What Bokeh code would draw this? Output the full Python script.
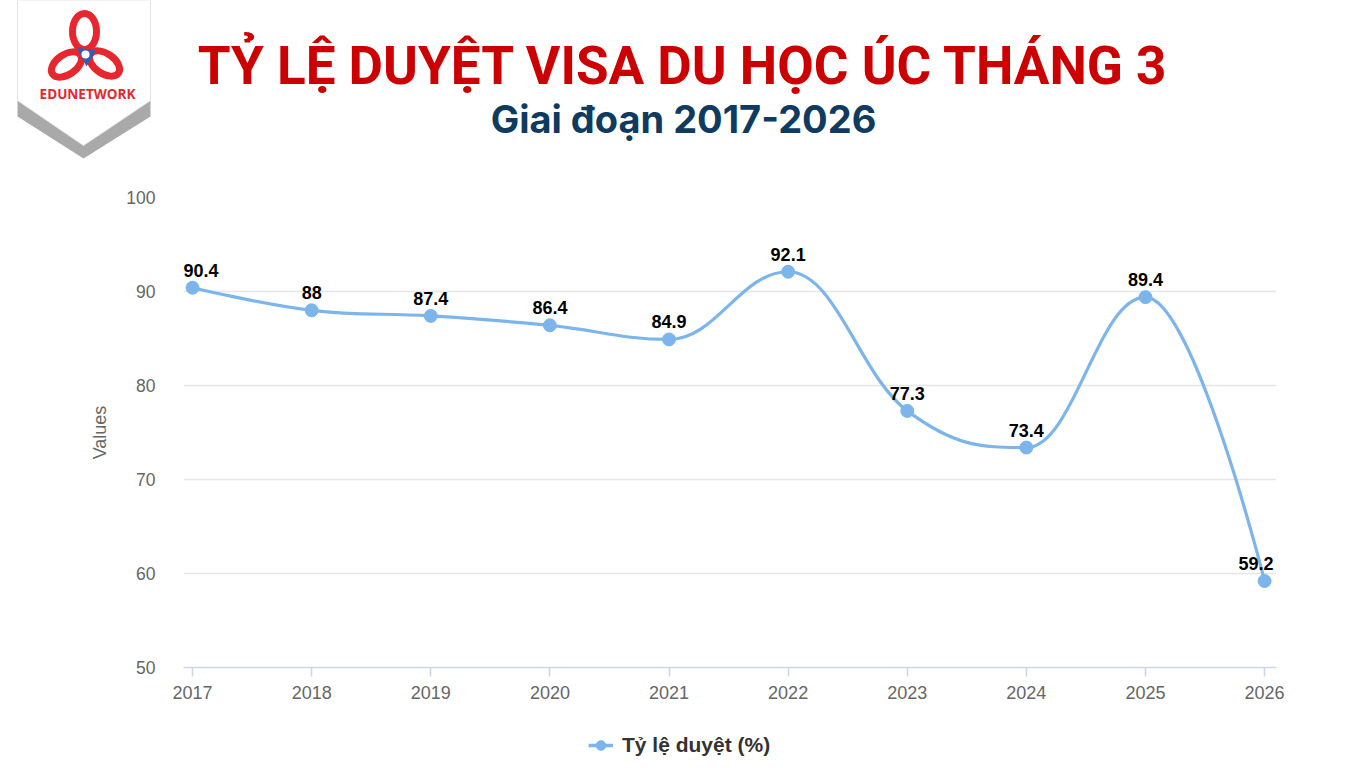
import numpy as np
from bokeh.plotting import figure
from bokeh.layouts import column
from bokeh.models import (ColumnDataSource, Range1d, FixedTicker, Legend, LegendItem)
from bokeh.core.properties import value
from bokeh.embed import file_html
from bokeh.resources import INLINE

# ---------------- data ----------------
years = [2017, 2018, 2019, 2020, 2021, 2022, 2023, 2024, 2025, 2026]
rates = [90.4, 88.0, 87.4, 86.4, 84.9, 92.1, 77.3, 73.4, 89.4, 59.2]
labels = ["90.4", "88", "87.4", "86.4", "84.9", "92.1", "77.3", "73.4", "89.4", "59.2"]
y_ticks = [50, 60, 70, 80, 90, 100]
title_text = "TỶ LỆ DUYỆT VISA DU HỌC ÚC THÁNG 3"
subtitle_text = "Giai đoạn 2017-2026"
series_name = "Tỷ lệ duyệt (%)"
y_axis_title = "Values"

LINE_COLOR = "#7cb5ec"


def spline_segments(xs, ys, smoothing=1.5):
    """Highcharts-style spline control points (affine invariant)."""
    denom = smoothing + 1
    n = len(xs)
    left = [(xs[i], ys[i]) for i in range(n)]
    right = [(xs[i], ys[i]) for i in range(n)]
    for i in range(1, n - 1):
        px, py = xs[i], ys[i]
        lx, ly = xs[i - 1], ys[i - 1]
        nx, ny = xs[i + 1], ys[i + 1]
        lcx = (smoothing * px + lx) / denom
        lcy = (smoothing * py + ly) / denom
        rcx = (smoothing * px + nx) / denom
        rcy = (smoothing * py + ny) / denom
        corr = 0.0
        if rcx != lcx:
            corr = (rcy - lcy) * (rcx - px) / (rcx - lcx) + py - rcy
        lcy += corr
        rcy += corr
        if lcy > ly and lcy > py:
            lcy = max(ly, py); rcy = 2 * py - lcy
        elif lcy < ly and lcy < py:
            lcy = min(ly, py); rcy = 2 * py - lcy
        if rcy > ny and rcy > py:
            rcy = max(ny, py); lcy = 2 * py - rcy
        elif rcy < ny and rcy < py:
            rcy = min(ny, py); lcy = 2 * py - rcy
        left[i] = (lcx, lcy)
        right[i] = (rcx, rcy)
    seg = dict(x0=[], y0=[], x1=[], y1=[], cx0=[], cy0=[], cx1=[], cy1=[])
    for i in range(1, n):
        seg["x0"].append(xs[i - 1]); seg["y0"].append(ys[i - 1])
        seg["x1"].append(xs[i]); seg["y1"].append(ys[i])
        seg["cx0"].append(right[i - 1][0]); seg["cy0"].append(right[i - 1][1])
        seg["cx1"].append(left[i][0]); seg["cy1"].append(left[i][1])
    return seg


W = 1350
HEAD_H = 175
CH_H = 540     # chart figure: page y 175..715
FOOT_H = 50    # footer: page y 715..765

# ---------------- header (logo + titles) ----------------
head = figure(width=W, height=HEAD_H, x_range=Range1d(0, W), y_range=Range1d(HEAD_H, 0),
              output_backend="svg", toolbar_location=None, min_border=0)
head.frame_align = False
head.axis.visible = False
head.grid.visible = False
head.outline_line_color = None

# logo shield with shadow
head.patch([17, 17, 83, 150, 150], [100, 116, 158, 116, 100], fill_color="#9a9a9a", line_color=None, fill_alpha=0.85)
head.patch([17, 17, 83, 150, 150], [0, 100, 145, 100, 0], fill_color="white", line_color="#e6e6e6", line_width=1)
# trefoil loops
head.ellipse(x=[84], y=[31], width=[24], height=[36], fill_color=None, line_color="#e8262d", line_width=7)
head.ellipse(x=[66], y=[64], width=[34], height=[20], angle=[0.6], fill_color=None, line_color="#e8262d", line_width=7)
head.ellipse(x=[104], y=[63], width=[34], height=[20], angle=[-0.6], fill_color=None, line_color="#e8262d", line_width=7)
head.patch([76, 96, 86], [47, 50, 66], fill_color="#3b5ba9", line_color=None)
head.scatter(x=[85], y=[54], size=8, fill_color="white", line_color=None)
head.text(x=[87], y=[93], text=["EDUNETWORK"], text_align="center", text_baseline="middle",
          text_font=value("Open Sans"), text_font_style="bold", text_font_size="13.5px", text_color="#e8262d")

head.text(x=[683], y=[65], text=[title_text], text_align="center", text_baseline="alphabetic",
          text_font=value("Roboto"), text_font_style="bold", text_font_size="53px", text_color="#cc0000")
head.text(x=[683], y=[118], text=[subtitle_text], text_align="center", text_baseline="alphabetic",
          text_font=value("Inter"), text_font_style="bold", text_font_size="38px", text_color="#0f3b60")

# ---------------- chart ----------------
FRAME_TOP, FRAME_BOTTOM, FRAME_LEFT, FRAME_RIGHT = 197, 667, 183, 1276
p = figure(width=W, height=CH_H, output_backend="svg", toolbar_location=None,
           x_range=Range1d(2016.924, 2026.10), y_range=Range1d(50, 100),
           min_border_left=FRAME_LEFT, min_border_right=W - FRAME_RIGHT,
           min_border_top=FRAME_TOP - HEAD_H, min_border_bottom=HEAD_H + CH_H - FRAME_BOTTOM)
p.frame_align = False
p.outline_line_color = None
p.background_fill_color = "white"
p.border_fill_color = "white"

# labels at the plot edges are justified inside the plot area (as the original does)
lab_align = ["left"] + ["center"] * (len(years) - 2) + ["right"]
lab_dx = [-9] + [0] * (len(years) - 2) + [9]
src = ColumnDataSource(dict(x=years, y=rates, lab=labels, align=lab_align, dx=lab_dx))
seg = spline_segments(np.array(years, float), np.array(rates, float))
p.bezier(x0="x0", y0="y0", x1="x1", y1="y1", cx0="cx0", cy0="cy0", cx1="cx1", cy1="cy1",
         source=ColumnDataSource(seg), line_color=LINE_COLOR, line_width=3.2)
p.scatter("x", "y", source=src, size=13, fill_color=LINE_COLOR, line_color=LINE_COLOR)
p.text("x", "y", text="lab", source=src, text_align="align", x_offset="dx",
       text_baseline="bottom", y_offset=-11,
       text_font=value("Liberation Sans"), text_font_style="bold", text_font_size="18px", text_color="#000000")

# axes
p.xaxis.ticker = FixedTicker(ticks=years)
p.xaxis.axis_line_color = "#ccd6eb"
p.xaxis.axis_line_width = 1.6
p.xaxis.major_tick_line_color = "#ccd6eb"
p.xaxis.major_tick_line_width = 1.6
p.xaxis.major_tick_out = 9
p.xaxis.major_tick_in = 0
p.xaxis.minor_tick_line_color = None
p.xaxis.major_label_standoff = 9
p.xaxis.major_label_text_font = "Liberation Sans"
p.xaxis.major_label_text_font_size = "18px"
p.xaxis.major_label_text_color = "#666666"

p.yaxis.ticker = FixedTicker(ticks=y_ticks)
p.yaxis.axis_line_color = None
p.yaxis.major_tick_line_color = None
p.yaxis.minor_tick_line_color = None
p.yaxis.major_label_standoff = 22
p.yaxis.major_label_text_font = "Liberation Sans"
p.yaxis.major_label_text_font_size = "17.5px"
p.yaxis.major_label_text_color = "#666666"
p.yaxis.axis_label = y_axis_title
p.yaxis.axis_label_text_font = "Liberation Sans"
p.yaxis.axis_label_text_font_style = "normal"
p.yaxis.axis_label_text_font_size = "18px"
p.yaxis.axis_label_text_color = "#666666"
p.yaxis.axis_label_standoff = 13

p.xgrid.grid_line_color = None
p.ygrid.ticker = FixedTicker(ticks=y_ticks)
p.ygrid.grid_line_color = "#e6e6e6"
p.ygrid.grid_line_width = 1.6

# ---------------- footer with legend ----------------
# the footer's view window lies away from the data, so only the legend is shown
foot = figure(width=W, height=FOOT_H, x_range=Range1d(0, 1), y_range=Range1d(0, 1),
              output_backend="svg", toolbar_location=None, min_border=0)
foot.frame_align = False
foot.axis.visible = False
foot.grid.visible = False
foot.outline_line_color = None
leg_line = foot.line(x=years, y=rates, line_color=LINE_COLOR, line_width=3.5)
leg_pt = foot.scatter(x=years, y=rates, size=14, fill_color=LINE_COLOR, line_color=LINE_COLOR)
legend = Legend(items=[LegendItem(label=series_name, renderers=[leg_line, leg_pt])],
                location=(588, 8), orientation="horizontal",
                padding=0, margin=0, border_line_color=None, background_fill_alpha=0,
                glyph_width=25, glyph_height=24, label_height=24, label_standoff=9,
                label_text_font="Liberation Sans", label_text_font_style="bold",
                label_text_font_size="21px", label_text_color="#333333")
foot.add_layout(legend)

layout = column(head, p, foot, spacing=0)
open("out.html", "w").write(file_html(layout, INLINE))
